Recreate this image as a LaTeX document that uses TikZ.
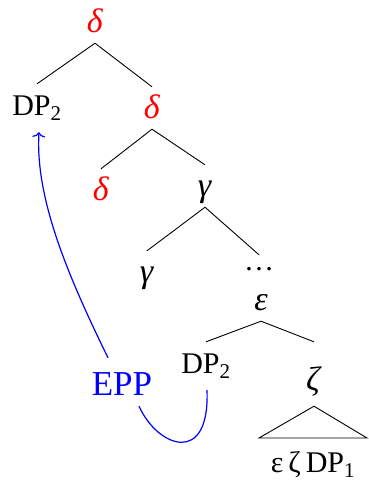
\documentclass[tikz,border=0pt]{standalone}
\usepackage{fontspec}
\setmainfont{Liberation Serif}
\usetikzlibrary{calc,arrows.meta}
\newcommand{\gk}[1]{{\fontsize{34}{40}\selectfont\textit{#1}}}
\begin{document}
\begin{tikzpicture}[x=1pt,y=-1pt,
  tn/.style={anchor=base,inner sep=6pt,text height=25pt,text depth=5pt,font=\fontsize{30}{36}\selectfont},
  red/.style={text=red},
  edge/.style={draw=black,line width=0.9pt},
  mv/.style={draw=blue,line width=1.2pt}]
\useasboundingbox (0,0) rectangle (368,482);
\node[tn,red] (root) at (95,32) {\gk{δ}};
\node[tn] (dpA) at (37,115) {DP\textsubscript{2}};
\node[tn,red] (d2) at (152,118) {\gk{δ}};
\node[tn,red] (d3) at (101,200) {\gk{δ}};
\node[tn] (g1) at (205,196) {\gk{γ}};
\node[tn] (g2) at (147,282) {\gk{γ}};
\node[tn,text height=9pt] (dots) at (259,270) {\ldots};
\node[tn] (eps) at (261,310) {\gk{ε}};
\node[tn] (dpB) at (206,373) {DP\textsubscript{2}};
\node[tn,text height=42pt,text depth=10pt] (zeta) at (314,390) {\gk{ζ}};
\node[tn,inner sep=1pt,text depth=4pt] (bot) at (313,472) {ε\,ζ\,DP\textsubscript{1}};
\node[anchor=base,inner sep=12pt,text height=25pt,text depth=5pt,font=\fontsize{35}{40}\selectfont,text=blue] (epp) at (122,395) {EPP};
\coordinate (tl) at (259,438);
\coordinate (tr) at (367,438);
\draw[edge] (root.south) -- (dpA.north);
\draw[edge] (root.south) -- (d2.north);
\draw[edge] (d2.south) -- (d3.north);
\draw[edge] (d2.south) -- (g1.north);
\draw[edge] (g1.south) -- (g2.north);
\draw[edge] (g1.south) -- (dots.north);
\draw[edge] (eps.south) -- (dpB.north);
\draw[edge] (eps.south) -- (zeta.north);
\draw[edge] (zeta.south) -- (tl) -- (tr) -- cycle;
\draw[mv,-{To[length=5pt,width=13pt]}] ($(epp.north)+(-14,0)$) .. controls (70,280) and (35,200) .. ($(dpA.south)+(2,6)$);
\draw[mv] ($(epp.south)+(17,-6)$) .. controls (158,448) and (210,466) .. ($(dpB.south)+(1,6)$);
\end{tikzpicture}
\end{document}
